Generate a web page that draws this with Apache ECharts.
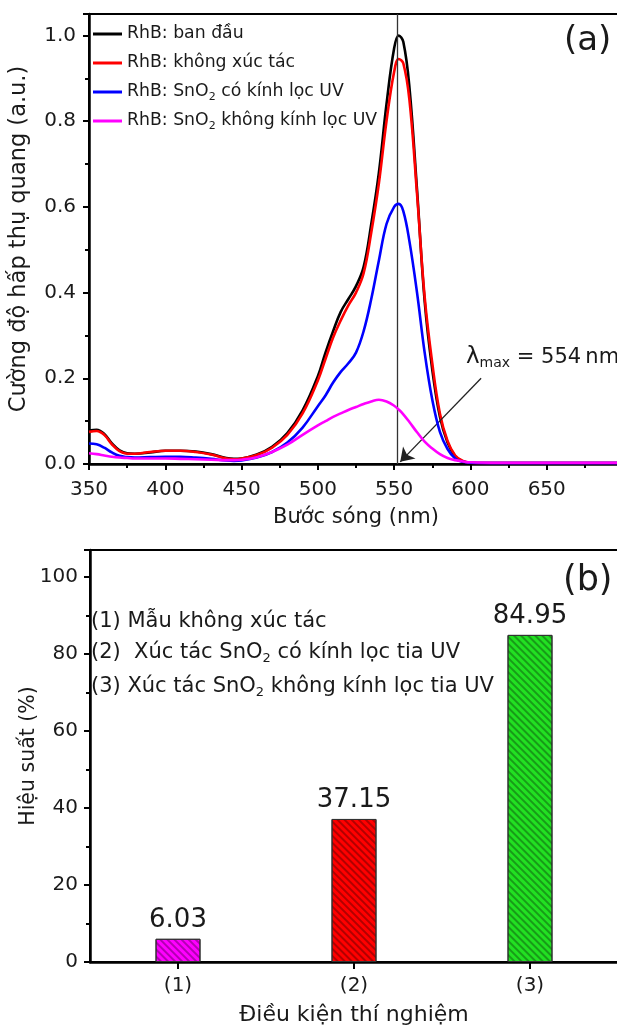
<!DOCTYPE html>
<html>
<head>
<meta charset="utf-8">
<script src="https://cdn.jsdelivr.net/npm/echarts@6/dist/echarts.min.js"></script>
<style>
html,body{margin:0;padding:0;background:#fff;}
#c{width:617px;height:1025px;}
</style>
</head>
<body>
<div id="c"></div>
<script>
// ---------- DATA ----------
const wavelength = [350,355,360,365,370,375,380,390,400,410,420,430,440,445,450,460,470,480,490,500,505,510,515,520,525,530,535,540,545,550,553,556,560,565,570,575,580,585,590,595,600,620,650,680,700];
const absInitial = [0.078,0.080,0.070,0.048,0.032,0.025,0.024,0.027,0.031,0.031,0.029,0.023,0.014,0.012,0.013,0.022,0.040,0.072,0.125,0.205,0.260,0.310,0.355,0.385,0.415,0.460,0.560,0.680,0.840,0.970,1.000,0.985,0.880,0.640,0.380,0.220,0.110,0.050,0.018,0.006,0.003,0.002,0.002,0.002,0.002];
const absNoCatalyst = [0.075,0.077,0.068,0.046,0.030,0.024,0.024,0.028,0.031,0.031,0.028,0.022,0.013,0.011,0.013,0.021,0.038,0.068,0.118,0.195,0.245,0.295,0.335,0.370,0.400,0.445,0.540,0.655,0.800,0.915,0.945,0.935,0.850,0.630,0.390,0.235,0.118,0.054,0.020,0.007,0.003,0.002,0.002,0.002,0.002];
const absSnO2Filter = [0.048,0.046,0.038,0.027,0.019,0.016,0.015,0.016,0.017,0.017,0.015,0.012,0.008,0.007,0.008,0.015,0.028,0.050,0.085,0.135,0.160,0.190,0.215,0.235,0.260,0.310,0.385,0.475,0.560,0.600,0.607,0.590,0.520,0.400,0.260,0.150,0.075,0.035,0.013,0.005,0.003,0.002,0.002,0.002,0.002];
const absSnO2NoFilter = [0.025,0.023,0.020,0.017,0.015,0.014,0.013,0.013,0.013,0.012,0.011,0.010,0.009,0.009,0.010,0.016,0.028,0.045,0.068,0.090,0.100,0.110,0.118,0.126,0.133,0.140,0.146,0.150,0.146,0.136,0.127,0.116,0.098,0.074,0.052,0.036,0.023,0.014,0.009,0.006,0.004,0.003,0.003,0.003,0.003];
const seriesNames = ['RhB: ban đầu','RhB: không xúc tác','RhB: SnO2 có kính lọc UV','RhB: SnO2 không kính lọc UV'];
const lineColors = ['#000000','#ff0000','#0000ff','#ff00ff'];
const lambdaMaxLine = 552;
const arrowFrom = [607, 0.20];
const arrowTo = [554, 0.005];

const conditions = ['(1)','(2)','(3)'];
const efficiency = [6.03, 37.15, 84.95];
const barColors = ['#ff00ff','#ff0000','#22e022'];
const conditionNotes = ['(1) Mẫu không xúc tác','(2)  Xúc tác SnO{sub|2} có kính lọc tia UV','(3) Xúc tác SnO{sub|2} không kính lọc tia UV'];

// ---------- CHART ----------
const FONT = 'DejaVu Sans';
const TXT = '#1a1a1a';
const chart = echarts.init(document.getElementById('c'), null, {renderer:'canvas'});
const absArrays = [absInitial, absNoCatalyst, absSnO2Filter, absSnO2NoFilter];

const lineSeries = absArrays.map((arr, k) => ({
  type:'line', name: seriesNames[k], xAxisIndex:0, yAxisIndex:0,
  data: wavelength.map((w,i)=>[w, arr[i]]),
  smooth: 0.4, symbol:'none', lineStyle:{width:2.6, color: lineColors[k]}, itemStyle:{color: lineColors[k]},
  z: 3 + k
}));
lineSeries[0].markLine = {
  silent:true, symbol:['none','none'], label:{show:false},
  lineStyle:{color:'#333', width:1.3, type:'solid'},
  data:[{xAxis: lambdaMaxLine}]
};
lineSeries[3].markLine = {
  silent:true, label:{show:false}, symbol:['none','arrow'], symbolSize:13,
  lineStyle:{color:'#222', width:1.3, type:'solid'},
  itemStyle:{color:'#222'},
  data:[[{coord: arrowFrom},{coord: arrowTo}]]
};

const subRich = {sub:{fontSize:11, lineHeight:11, verticalAlign:'bottom', fontFamily:FONT, color:TXT}};

const option = {
  animation:false,
  backgroundColor:'#fff',
  textStyle:{fontFamily:FONT, color:TXT},
  grid:[
    {left:89, right:-6, top:14, bottom:1025-464, show:true, borderColor:'#000', borderWidth:2, backgroundColor:'transparent', outerBoundsMode:'none'},
    {left:90, right:-1, top:550, bottom:1025-962, show:true, borderColor:'#000', borderWidth:2, backgroundColor:'transparent', outerBoundsMode:'none'}
  ],
  legend:{
    data: seriesNames, orient:'vertical', left:93, top:23, padding:0, itemWidth:29, itemHeight:14, itemGap:7,
    icon:'path://M0,6 L29,6 L29,9 L0,9 Z',
    formatter: n => n.replace('SnO2','SnO{sub|2}'),
    textStyle:{fontFamily:FONT, fontSize:17.3, lineHeight:22, color:TXT, rich: subRich},
    selectedMode:false
  },
  xAxis:[
    {type:'value', gridIndex:0, min:350, max:700, interval:50,
     name:'Bước sóng (nm)', nameLocation:'middle', nameGap:43, nameMoveOverlap:false, nameTextStyle:{fontFamily:FONT, fontSize:21, color:TXT},
     axisLine:{lineStyle:{color:'#000', width:2.5}},
     axisTick:{show:true, inside:false, length:6, lineStyle:{width:2, color:'#000'}},
     minorTick:{show:true, splitNumber:2, length:4, lineStyle:{width:2, color:'#000'}},
     splitLine:{show:false}, minorSplitLine:{show:false},
     axisLabel:{fontFamily:FONT, fontSize:20, color:TXT, margin:16, showMaxLabel:false}},
    {type:'category', gridIndex:1, data: conditions,
     name:'Điều kiện thí nghiệm', nameLocation:'middle', nameGap:42, nameMoveOverlap:false, nameTextStyle:{fontFamily:FONT, fontSize:22, color:TXT},
     axisLine:{lineStyle:{color:'#000', width:2.5}},
     axisTick:{show:true, alignWithLabel:true, inside:false, length:7, lineStyle:{width:2, color:'#000'}},
     axisLabel:{fontFamily:FONT, fontSize:20, color:TXT, margin:14}}
  ],
  yAxis:[
    {type:'value', gridIndex:0, min:0, max:1.05, interval:0.2,
     name:'Cường độ hấp thụ quang (a.u.)', nameLocation:'middle', nameGap:58, nameMoveOverlap:false, nameTextStyle:{fontFamily:FONT, fontSize:22.5, color:TXT},
     axisLine:{show:true, lineStyle:{color:'#000', width:2.5}},
     axisTick:{show:true, inside:false, length:6, lineStyle:{width:2, color:'#000'}},
     minorTick:{show:true, splitNumber:2, length:4, lineStyle:{width:2, color:'#000'}},
     splitLine:{show:false}, minorSplitLine:{show:false},
     axisLabel:{fontFamily:FONT, fontSize:20, color:TXT, margin:13, showMaxLabel:false, formatter: v => v.toFixed(1)}},
    {type:'value', gridIndex:1, min:0, max:107, interval:20,
     name:'Hiệu suất (%)', nameLocation:'middle', nameGap:51, nameMoveOverlap:false, nameTextStyle:{fontFamily:FONT, fontSize:20.5, color:TXT},
     axisLine:{show:true, lineStyle:{color:'#000', width:2.5}},
     axisTick:{show:true, inside:false, length:6, lineStyle:{width:2, color:'#000'}},
     minorTick:{show:true, splitNumber:2, length:4, lineStyle:{width:2, color:'#000'}},
     splitLine:{show:false}, minorSplitLine:{show:false},
     axisLabel:{fontFamily:FONT, fontSize:20, color:TXT, margin:12, showMaxLabel:false}}
  ],
  series: lineSeries.concat([{
    type:'bar', xAxisIndex:1, yAxisIndex:1, barWidth:45,
    data: efficiency.map((v,i)=>({value:v, itemStyle:{color: barColors[i]}})),
    itemStyle:{borderColor:'#333', borderWidth:1,
      decal:{symbol:'rect', symbolSize:1, dashArrayX:[1,0], dashArrayY:[1.3,2.7], rotation:Math.PI/4, color:'rgba(0,0,0,0.3)'}},
    label:{show:true, position:'top', distance:6, fontFamily:FONT, fontSize:26, color:TXT, formatter: p => p.value.toFixed(2)}
  }]),
  graphic:[
    {type:'text', left:564, top:24, style:{text:'(a)', font:'34px "DejaVu Sans"', fill:TXT}},
    {type:'text', left:563, top:563, style:{text:'(b)', font:'35px "DejaVu Sans"', fill:TXT}},
    {type:'text', left:466, top:346, style:{text:'{l|λ}{s|max}{n| = 554\u2009nm}', fill:TXT,
      rich:{l:{fontFamily:FONT, fontSize:23, lineHeight:26, fill:TXT}, s:{fontFamily:FONT, fontSize:14, lineHeight:14, verticalAlign:'bottom', fill:TXT}, n:{fontFamily:FONT, fontSize:21, lineHeight:26, fill:TXT}}}}
  ].concat(conditionNotes.map((t,i)=>({
    type:'text', left:91, top:[611, 642, 676][i],
    style:{text:'{n|' + t.replace('{sub|2}','}{sub|2}{n|') + '}', fill:TXT,
      rich:{n:{fontFamily:FONT, fontSize:21, lineHeight:26, fill:TXT}, sub:{fontFamily:FONT, fontSize:13, lineHeight:13, verticalAlign:'bottom', fill:TXT}}}
  })))
};
chart.setOption(option);
</script>
</body>
</html>
